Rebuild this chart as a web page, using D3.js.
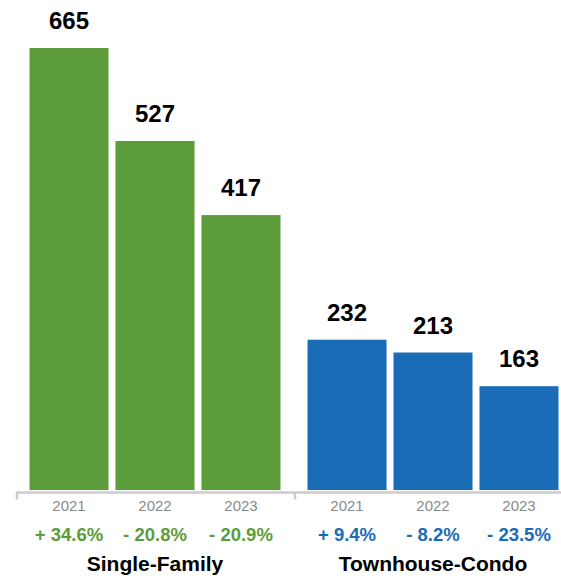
<!DOCTYPE html>
<html>
<head>
<meta charset="utf-8">
<script src="https://cdn.jsdelivr.net/npm/d3@7"></script>
<style>
  html, body { margin: 0; padding: 0; background: #fff; }
  svg { display: block; font-family: "Liberation Sans", Arial, Helvetica, sans-serif; }
</style>
</head>
<body>
<svg id="chart" width="561" height="580"></svg>
<script>
const groups = ["Single-Family", "Townhouse-Condo"];
const years = ["2021", "2022", "2023"];
const singleFamily = [665, 527, 417];
const townhouseCondo = [232, 213, 163];
const singleFamilyChange = ["+ 34.6%", "- 20.8%", "- 20.9%"];
const townhouseCondoChange = ["+ 9.4%", "- 8.2%", "- 23.5%"];
const groupColors = ["#5c9c3a", "#1a6cb6"];

const data = [
  { group: groups[0], values: singleFamily, changes: singleFamilyChange, color: groupColors[0] },
  { group: groups[1], values: townhouseCondo, changes: townhouseCondoChange, color: groupColors[1] }
];

const svg = d3.select("#chart");
const zeroY = 496;     // scale zero (bars tuck under axis)
const barBottom = 490;
const axisY = 492.5;

const x0 = d3.scaleBand().domain(groups).range([16, 572]).paddingInner(0).paddingOuter(0);
const x1 = d3.scaleBand().domain(years).range([0, x0.bandwidth()]).paddingInner(0.081).paddingOuter(0.157);
const y = d3.scaleLinear().domain([0, 665]).range([zeroY, 48]);

const g = svg.selectAll("g.group").data(data).join("g")
  .attr("class", "group")
  .attr("transform", d => `translate(${x0(d.group)},0)`);

g.selectAll("rect").data(d => d.values.map((v, i) => ({ v, year: years[i], color: d.color })))
  .join("rect")
  .attr("x", d => x1(d.year))
  .attr("y", d => y(d.v))
  .attr("width", x1.bandwidth())
  .attr("height", d => barBottom - y(d.v))
  .attr("fill", d => d.color);

g.selectAll("text.val").data(d => d.values.map((v, i) => ({ v, year: years[i] })))
  .join("text")
  .attr("class", "val")
  .attr("x", d => x1(d.year) + x1.bandwidth() / 2)
  .attr("y", d => y(d.v) - 19)
  .attr("text-anchor", "middle")
  .attr("font-weight", "bold")
  .attr("font-size", 24)
  .attr("fill", "#000")
  .text(d => d.v);

g.each(function(d) {
  const sel = d3.select(this);
  const axis = d3.axisBottom(x1).tickSize(0).tickPadding(0);
  const ax = sel.append("g").attr("transform", `translate(0,${axisY})`).call(axis);
  ax.select(".domain").remove();
  ax.selectAll("text")
    .attr("y", 18.5)
    .attr("dy", 0)
    .attr("font-size", 15)
    .attr("font-family", "Liberation Sans, Arial, sans-serif")
    .attr("fill", "#8a8a8a");
  const w = x0.bandwidth();
  sel.append("path")
    .attr("d", `M1,${axisY + 7}V${axisY}H${w}`)
    .attr("fill", "none")
    .attr("stroke", "#cccccc")
    .attr("stroke-width", 2.5);
});

g.selectAll("text.chg").data(d => d.changes.map((c, i) => ({ c, year: years[i], color: d.color })))
  .join("text")
  .attr("class", "chg")
  .attr("x", d => x1(d.year) + x1.bandwidth() / 2)
  .attr("y", 541)
  .attr("text-anchor", "middle")
  .attr("font-weight", "bold")
  .attr("font-size", 18.5)
  .attr("fill", d => d.color)
  .text(d => d.c);

g.append("text")
  .attr("x", x0.bandwidth() / 2)
  .attr("y", 571)
  .attr("text-anchor", "middle")
  .attr("font-weight", "bold")
  .attr("font-size", 21)
  .attr("fill", "#000")
  .text(d => d.group);
</script>
</body>
</html>
